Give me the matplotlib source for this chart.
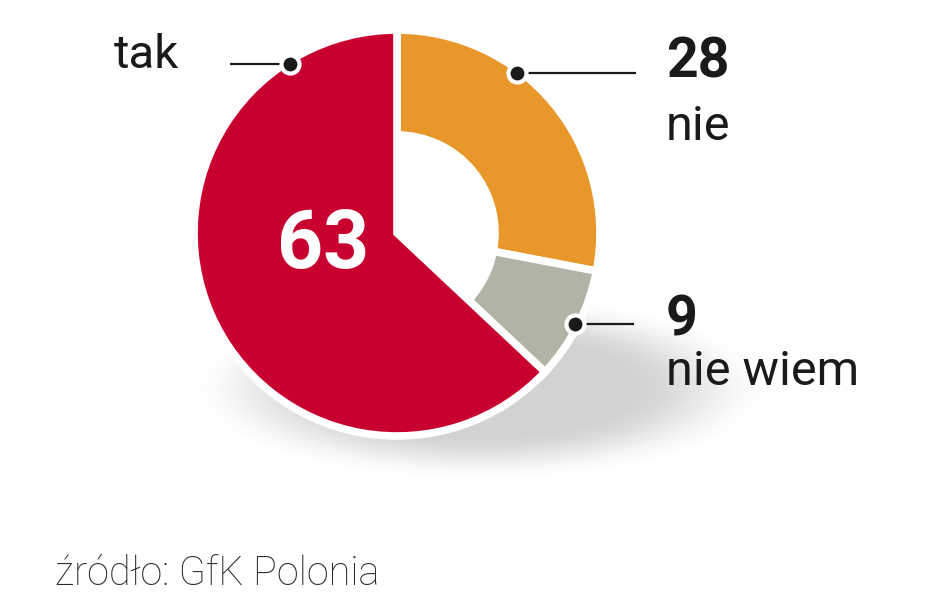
import matplotlib.pyplot as plt
import numpy as np

# survey answers, clockwise from the top
labels = ["nie", "nie wiem", "tak"]
values = [28, 9, 63]
colors = ["#E8972A", "#B2B3A5", "#C8002F"]
source = "źródło: GfK Polonia"

W, H = 948, 593
cx, cy = 397, H - 233
R = 203
R_IN = 98

plt.rcParams['font.family'] = ['Roboto', 'DejaVu Sans']

fig = plt.figure(figsize=(W / 100, H / 100), dpi=100, facecolor='white')
ax = fig.add_axes([0, 0, 1, 1])

# soft drop shadow under the lower right of the ring
xs = np.arange(W)
ys = np.arange(H)
X, Y = np.meshgrid(xs, ys)
d = np.sqrt(((X - 480) / 245) ** 2 + ((Y - (H - 388)) / 78) ** 2)
a = np.clip((1.2 - d) / 0.6, 0, 1)
a = a * a * (3 - 2 * a) * 0.32
shadow = np.zeros((H, W, 4))
shadow[..., :3] = 0.45
shadow[..., 3] = a
ax.imshow(shadow, extent=(0, W, 0, H), origin='lower', zorder=0, interpolation='bilinear')

wedges, _ = ax.pie(values, colors=colors, startangle=90, counterclock=False,
                   center=(cx, cy), radius=R,
                   wedgeprops=dict(edgecolor='white', linewidth=5.5))
for w in wedges:
    w.set_zorder(2)
# orange and grey parts are a ring, the red part is a full wedge
wedges[0].set_width(R - R_IN)
wedges[1].set_width(R - R_IN)

# leader dots on the outer edge
dot_angles = [53, -27, 122.5]
line_ends = [636, 634, 230]
for ang, xe in zip(dot_angles, line_ends):
    t = np.deg2rad(ang)
    px, py = cx + 200 * np.cos(t), cy + 200 * np.sin(t)
    ax.plot([px, xe], [py, py], color='#1a1a1a', lw=1.6, zorder=3, solid_capstyle='butt')
    ax.plot(px, py, 'o', ms=13, mfc='#1a1a1a', mec='white', mew=3, zorder=4)

# labels
ax.text(114, H - 68, labels[2], fontsize=34, color='#1a1a1a', ha='left', va='baseline')
ax.text(666, H - 77, str(values[0]), fontsize=40, fontweight='bold', color='#1a1a1a',
        ha='left', va='baseline')
ax.text(666, H - 140, labels[0], fontsize=35, color='#1a1a1a', ha='left', va='baseline')
ax.text(666, H - 335, str(values[1]), fontsize=40, fontweight='bold', color='#1a1a1a',
        ha='left', va='baseline')
ax.text(666, H - 385, labels[1], fontsize=35, color='#1a1a1a', ha='left', va='baseline')
ax.text(323, H - 268, str(values[2]), fontsize=58, fontweight='bold', color='white',
        ha='center', va='baseline', zorder=5)

ax.text(55, H - 585, source, fontsize=28.5, fontweight='light', color='#2a2a2a',
        ha='left', va='baseline')

ax.set_xlim(0, W)
ax.set_ylim(0, H)
ax.set_aspect('auto')
ax.axis('off')

fig.savefig('out.png', dpi=100, facecolor='white')
